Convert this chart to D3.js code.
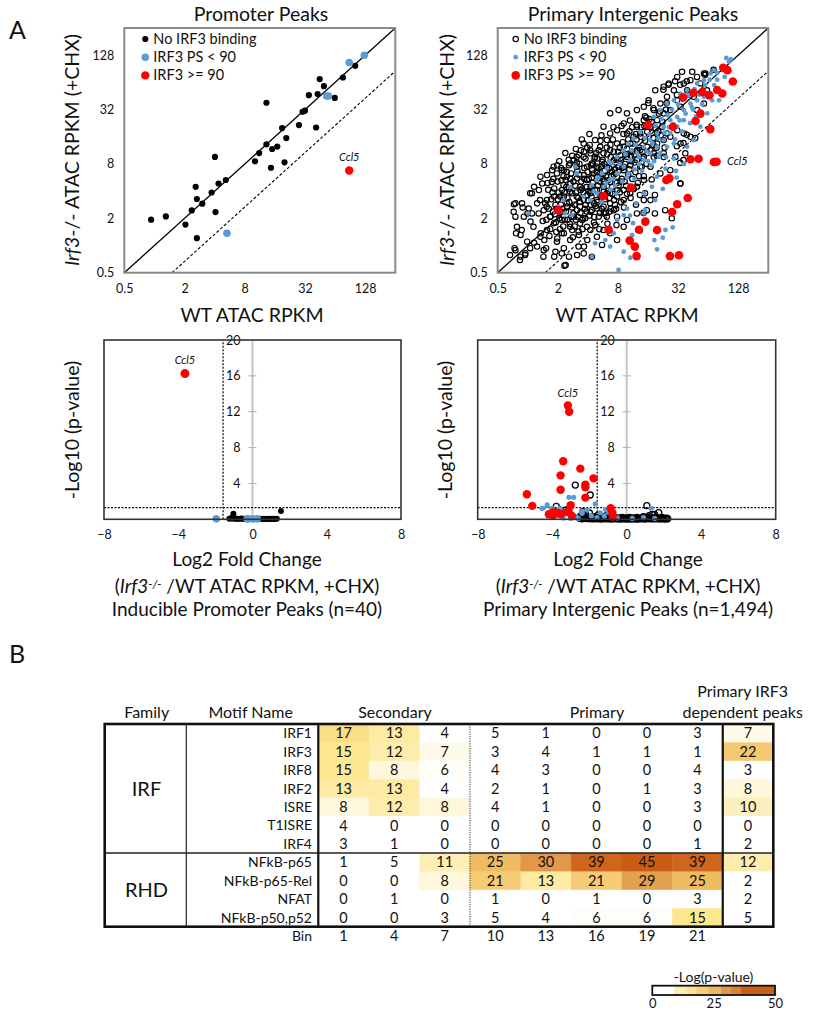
<!DOCTYPE html>
<html><head><meta charset="utf-8">
<script src="https://cdn.jsdelivr.net/npm/d3@7"></script>
<style>
body{margin:0;background:#fff}
text{font-family:Lato,"Open Sans",sans-serif;fill:#111}
</style>
</head><body>
<svg id="c" width="813" height="1014"></svg>
<script>
// ---------------- DATA ----------------
// Scatter plots: values are log2(RPKM): [WT, Irf3-/-]
const tickVals = [0.5, 2, 8, 32, 128];
const promNone = [[-0.11,0.95],[0.38,1.07],[1.03,0.77],[1.24,1.29],[1.37,2.16],[1.41,1.71],[1.41,0.27],[1.59,1.54],[1.9,1.95],[2.03,1.23],[2.01,3.26],[2.13,2.28],[2.37,2.41],[3.34,3.1],[3.48,3.4],[3.72,3.72],[3.72,5.25],[3.87,2.86],[3.91,3.55],[4.08,3.64],[4.24,4.32],[4.32,3.06],[4.38,3.95],[4.8,4.43],[4.92,4.92],[5.0,4.96],[5.13,5.53],[5.37,4.34],[5.42,5.57],[5.49,6.12],[5.63,5.86],[5.99,5.43],[6.26,6.18],[6.67,6.61]];
const promBlue = [[6.47,6.73],[6.97,7.0],[5.72,5.5],[5.78,5.5],[2.41,0.45]];
const promRed = [[6.47,2.76]];

const interNone = [[-0.59,-0.35],[-0.44,-0.1],[-0.26,-0.53],[-0.09,-0.35],[0.08,-0.1],[0.21,0.1],[-0.39,0.45],[-0.2,0.57],[-0.41,1.06],[-0.46,1.52],[-0.17,1.4],[-0.01,1.18],[0.19,0.69],[0.43,0.45],[0.61,-0.1],[0.52,-0.41],[0.88,-0.41],[1.13,-0.29],[1.22,-0.74],[0.97,0.14],[1.13,0.45],[1.41,0.2],[1.69,-0.04],[1.86,-0.29],[2.13,-0.41],[1.69,0.51],[0.08,1.92],[0.21,2.16],[0.41,1.67],[0.63,1.43],[0.74,1.06],[0.36,1.18],[0.86,2.9],[0.97,2.65],[0.8,2.34],[1.13,2.77],[1.3,2.53],[1.19,2.22],[1.41,1.98],[1.08,1.8],[1.3,1.55],[0.97,1.36],[1.52,1.18],[1.74,1.43],[1.91,1.0],[2.08,0.57],[2.3,0.32],[2.47,0.02],[1.74,0.81],[1.41,0.69],[1.13,0.94],[2.74,0.45],[2.97,0.2],
[1.63,2.9],[1.86,3.26],[2.08,3.5],[2.24,3.26],[2.41,3.63],[2.63,3.88],[2.52,3.39],[2.74,3.51],[2.97,3.75],[3.3,4.12],[3.19,3.63],[3.41,3.75],[3.08,3.32],[2.86,3.14],[2.63,2.9],[2.41,2.65],[2.19,2.65],[1.97,2.41],[1.74,2.16],[1.63,1.8],[1.86,1.67],[2.08,1.92],[2.3,2.04],[2.52,2.16],[2.74,2.34],[2.97,2.53],[3.19,2.77],[3.41,2.95],[3.63,3.14],[3.86,3.26],[3.74,3.51],[3.97,3.63],[2.3,1.67],[2.52,1.43],[2.74,1.55],[2.13,1.3],[2.36,1.06],[2.63,1.06],[2.97,1.06],[2.86,1.3],[3.19,1.67],[3.41,1.92],[3.19,2.04],[2.97,1.8],[2.74,1.92],[3.63,2.16],[3.86,2.41],[1.97,0.69],[2.24,0.75],[2.52,0.57],[3.19,0.69],[3.3,0.94],[3.63,1.18],[3.86,1.67],[4.08,1.67],
[1.97,2.9],[2.3,2.9],[2.13,3.02],[2.47,3.08],[2.8,2.71],[3.02,2.9],[3.3,3.26],[3.47,3.44],[3.52,4.0],[3.74,4.12],[3.97,4.18],[3.63,4.37],[3.86,4.61],[3.3,4.86],[3.19,4.49],[2.97,4.24],[2.74,4.12],[2.24,3.88],[1.86,3.75],[1.63,3.26],[1.41,3.02],[2.74,4.86],[3.02,4.98],[2.52,4.37],
[4.08,4.37],[4.3,4.61],[4.52,4.86],[4.19,4.98],[4.41,5.22],[4.63,5.47],[4.52,5.84],[4.69,5.96],[4.86,5.71],[4.97,5.34],[5.19,5.96],[5.41,6.08],[5.3,5.71],[5.63,6.2],[5.86,6.33],[5.74,5.96],[5.52,5.47],[5.08,5.1],[4.74,4.98],[4.3,4.12],[4.52,3.88],[4.74,4.0],[4.97,4.24],[5.19,4.12],[5.08,3.75],[4.3,3.75],[4.52,3.39],[4.19,3.26],[4.08,2.9],[4.41,2.65],[4.74,2.77],[5.08,2.28],[4.91,3.26],[5.24,3.39],[5.41,4.0],[5.86,5.22],[5.63,4.98],[5.96,5.71],[4.97,6.2],[5.13,6.39],[5.47,6.39],[5.91,6.33],[4.63,4.12],[4.47,4.37],[3.86,5.1],[3.63,4.98],[4.02,5.34],[4.24,5.71],
[0.42,2.53],[0.64,2.59],[0.81,2.77],[0.98,2.95],[1.2,2.77],[1.37,2.95],[1.53,3.14],[1.7,3.33],[1.87,3.45],[2.09,3.39],[2.31,3.2],[1.26,2.41],[1.42,2.28],[1.64,2.47],[1.87,2.59],[2.14,2.77],[2.31,2.53],[2.53,2.35],[2.09,2.16],[1.76,2.04],[1.48,1.92],[1.2,1.8],[0.87,1.8],[0.64,1.67],[0.53,1.3],[0.76,1.06],[0.87,0.82],[0.64,0.57],[0.42,0.32],[0.31,-0.04],[0.53,-0.17],[0.92,-0.23],[1.2,-0.1],[1.37,-0.41],[1.26,-0.72],[1.64,-0.35],[1.87,-0.04],[1.98,0.2],[1.7,0.39],[1.48,0.57],[1.2,0.45],[0.98,0.26],[1.53,1.06],[1.81,0.94],[2.09,1.24],[2.31,1.36],[2.53,1.18],[2.76,1.36],[2.87,1.67],[2.64,1.92],[2.42,1.8],[2.2,1.55],[1.92,1.49],[1.64,1.3],[1.31,1.43],[1.09,1.24],[0.92,1.49],[1.14,2.04],[1.37,2.1],[1.98,1.86],[2.98,2.04],[3.09,2.35],[2.92,2.65],[3.2,2.9],[-0.41,1.55],[-0.19,1.55],[-0.47,1.24],[-0.13,1.06],[0.09,0.88],[0.14,1.18],[0.03,1.36],[0.31,1.55],[0.14,1.92],[0.37,2.04],[0.48,2.28],[-0.41,-0.17],[-0.24,-0.41],[-0.08,-0.29],[-0.02,0.14],[-0.24,0.39],[-0.36,0.69],
[4.51,5.73],[4.68,5.91],[4.9,6.04],[5.07,5.91],[5.29,6.04],[4.96,5.54],[4.01,5.24],[4.18,5.05],[4.4,4.93],[4.62,5.24],[3.9,4.75],[3.62,4.44],[5.9,6.28],[6.18,6.46],[5.29,4.07],[5.57,3.95],[5.18,3.77],[4.96,3.65],[4.18,3.7],[4.34,4.2],
[4.19,3.39],[4.52,3.26],[5.07,3.04],[5.18,3.14],[3.79,2.9],[4.12,2.43],[5.07,2.28],[4.23,1.86],[3.73,1.86],[3.9,1.92],[3.96,1.3],[4.23,1.18],[4.57,1.3],[4.79,1.0],
[0.62,0.95],[0.7,1.35],[0.75,0.6],[0.82,1.95],[0.9,1.15],[0.95,0.5],[1.0,1.7],[0.68,2.05],[0.85,2.45],[0.55,0.2],
[1.05,1.0],[1.1,1.5],[1.12,2.4],[1.18,0.7],[1.22,1.95],[1.27,1.25],[1.3,2.7],[1.33,0.95],[1.38,1.6],[1.42,2.45],[1.45,1.05],[1.48,3.3],[1.5,0.3],[1.05,3.1],[1.25,3.4],
[1.55,1.5],[1.58,2.2],[1.6,0.95],[1.65,2.75],[1.68,1.75],[1.72,3.0],[1.75,1.2],[1.78,2.35],[1.82,0.6],[1.85,1.95],[1.88,2.85],[1.9,1.35],[1.95,2.15],[1.98,3.6],[2.0,1.65],[1.6,3.55],[1.8,3.9],
[2.03,2.45],[2.05,1.1],[2.1,2.95],[2.12,1.8],[2.16,2.3],[2.2,0.85],[2.22,3.2],[2.26,1.45],[2.3,2.7],[2.33,2.2],[2.36,3.5],[2.4,1.2],[2.43,2.9],[2.46,1.85],[2.5,2.45],[2.05,4.1],[2.45,4.05],[2.38,0.6],
[2.55,3.0],[2.57,1.7],[2.6,2.55],[2.63,3.6],[2.66,2.0],[2.7,2.85],[2.72,1.25],[2.76,3.25],[2.8,2.15],[2.83,3.9],[2.86,2.6],[2.9,1.5],[2.93,3.05],[2.96,2.3],[3.0,3.45],[2.65,0.8],[2.95,0.75],[2.85,4.35],
[3.03,2.75],[3.06,1.95],[3.1,3.15],[3.13,2.45],[3.16,3.8],[3.2,1.4],[3.24,3.0],[3.27,2.2],[3.3,3.55],[3.34,2.6],[3.38,4.2],[3.42,1.75],[3.45,3.1],[3.48,2.45],[3.5,3.75],[3.12,4.4],[3.4,4.6],
[3.55,3.35],[3.58,2.7],[3.62,3.9],[3.66,2.3],[3.7,3.6],[3.74,2.9],[3.78,4.35],[3.82,3.2],[3.86,2.55],[3.9,3.85],[3.94,4.7],[3.98,3.4],[3.6,1.5],[3.85,1.2],
[4.03,4.0],[4.08,3.5],[4.12,4.55],[4.18,3.95],[4.25,4.3],[4.3,3.3],[4.36,4.85],[4.42,4.05],[4.48,4.55],[4.55,3.6],[4.6,5.0],
[0.5,0.9],[0.58,1.55],[0.66,2.3],[0.72,0.35],[0.78,1.7],[0.84,1.25],[0.88,2.1],[0.93,0.85],[0.99,2.35],[1.03,1.95],[1.07,0.6],[1.11,2.85],[1.15,1.35],[1.19,2.55],[1.23,0.95],[1.28,2.15],[1.32,1.75],[1.36,3.15],[1.4,0.8],[1.44,2.65],[1.47,1.4],[1.52,2.35],[1.56,0.7],[1.6,1.95],[1.63,3.05],[1.67,1.05],[1.71,2.6],[1.74,1.6],[1.77,3.5],[1.81,2.1],[1.84,1.0],[1.88,2.45],[1.92,3.2],[1.96,1.25],[1.99,2.7],[2.02,2.0],[2.06,3.7],[2.09,1.5],[2.13,2.5],[2.17,3.0],[2.21,1.05],[2.24,2.05],[2.28,3.4],[2.32,1.6],[2.35,2.85],[2.39,2.35],[2.42,3.85],[2.46,1.35],[2.49,3.15],[2.53,2.0],[2.56,2.75],[2.6,1.2],[2.64,3.35],[2.67,2.4],[2.71,1.75],[2.75,3.7],[2.78,2.55],[2.82,1.9],[2.86,3.45],[2.9,2.8],[2.94,1.35],[2.98,3.15],[3.02,2.2],[3.06,3.6],[3.1,1.6],[3.14,2.85],[3.18,4.1],[3.22,2.35],[3.26,3.35],[3.3,1.9],[3.34,3.9],[3.38,2.8],[3.43,3.3],[3.47,4.35],[3.52,2.1],[3.56,3.05],[3.6,4.1],[3.65,3.5],[3.7,2.55],[3.75,4.0],[3.8,3.45],[3.88,4.4],[3.95,3.0],[4.05,4.65],[4.15,4.15],[4.28,3.6]];

const interBlue = [[0.02,1.18],[1.58,2.9],[1.24,1.18],[1.47,1.12],[1.86,1.8],[2.13,2.22],[2.3,2.41],[2.47,2.65],[2.63,2.83],[2.8,3.02],[2.97,3.26],[3.19,3.51],[3.36,3.75],[3.52,3.93],[3.74,4.18],[3.97,4.49],[4.19,4.73],[4.41,4.98],[4.63,5.22],[4.86,5.34],[5.08,5.59],[5.3,5.71],[5.63,5.96],[5.86,6.08],[6.08,6.33],[6.19,6.45],[6.69,6.76],[6.36,5.34],[5.86,5.47],[5.63,5.34],[5.41,5.22],[5.19,4.98],[4.97,4.73],[4.74,4.61],[4.52,4.37],[4.3,4.12],[4.08,3.88],[3.86,3.63],[3.63,3.39],[3.41,3.14],[3.19,2.9],[2.97,2.65],[2.74,2.41],[2.52,2.16],[2.3,1.92],[2.08,1.67],[3.86,3.14],[4.08,3.39],[4.3,3.63],[4.52,3.88],[4.74,4.12],[4.97,4.37],[5.19,4.61],[4.36,3.26],[4.63,3.63],[4.86,3.75],[4.93,2.74],[4.49,2.08],[3.6,1.55],[3.9,1.3],[3.5,0.82],[4.82,0.67],[4.49,0.29],[4.21,0.2],[4.3,-0.14],[2.74,-0.04],[2.13,-0.41],[3.02,-0.9],[3.41,-0.45],[3.19,-0.23],[3.47,0.38],[3.86,1.18],[4.24,1.67],[4.58,0.57],[2.74,0.63],[2.97,0.94],[3.3,1.36],[3.19,1.12],[3.86,1.92],[4.13,2.16],[4.3,2.53],[4.58,2.83],[4.86,3.2],[5.3,3.63],[5.52,3.88],[5.74,4.37],[5.97,4.86],[6.13,5.34],[2.24,0.08],[2.58,0.2],[2.86,0.45],[1.63,2.65],[1.41,2.16],[1.19,1.67],[1.02,1.42],[3.3,2.5],[3.55,2.8],[2.9,2.2],[3.7,3.0],[4.0,3.1],[5.5,5.0],[5.9,5.6],[6.3,6.1],
[2.2,2.0],[2.35,2.5],[2.45,1.6],[2.6,2.3],[2.7,3.1],[2.85,2.45],[2.95,1.9],[3.05,3.0],[3.15,2.35],[3.25,3.35],[3.35,2.65],[3.45,3.5],[3.55,2.45],[3.6,3.7],[3.7,3.25],[3.8,2.75],[3.9,3.95],[3.95,3.45],[4.05,4.1],[4.1,2.95],[4.15,3.75],[4.25,4.4],[4.35,3.95],[4.4,3.4],[4.45,4.65],[4.55,4.15],[4.6,3.25],[4.65,4.8],[4.7,4.35],[4.8,5.0],[4.85,4.45],[4.9,3.9],[5.0,5.2],[5.05,4.6],[5.12,4.2],[5.15,5.35],[5.25,4.85],[5.35,5.5],[5.4,4.5],[5.45,5.1],[5.55,5.75],[5.6,4.75],[5.7,5.55],[5.8,5.2],[5.9,5.9],[6.0,5.45],[6.05,6.1],[6.2,5.9],[6.3,6.35],[6.45,6.55],[6.55,6.2],[6.6,6.9],[6.75,6.85],[3.0,2.65],[2.75,2.05],[4.2,3.1],[4.95,2.5],[5.2,3.0],[3.4,1.1],[3.75,0.5]];

const interRed = [[6.5,6.54],[6.64,6.45],[6.82,6.03],[6.3,5.72],[6.47,5.59],[5.81,5.64],[5.51,5.62],[6.04,5.53],[5.17,5.45],[5.74,4.85],[5.58,4.58],[6.07,4.28],[4.0,4.43],[4.83,4.37],[5.41,3.17],[5.68,3.19],[6.19,3.07],[6.28,3.08],[4.61,2.41],[4.71,2.47],[3.43,2.13],[2.52,1.82],[1.02,1.3],[4.97,1.52],[5.32,1.75],[4.8,1.23],[3.91,0.88],[3.7,0.58],[4.3,0.57],[2.69,0.57],[3.39,0.18],[3.56,-0.04],[3.62,-0.39],[4.73,-0.39],[5.03,-0.36]];

// Volcano plots: [log2 fold change, -log10 p]
const volLeftNone = [[-1.25,0.05],[-1.15,0.1],[-1.03,0.63],[-1.0,0.05],[-0.9,0.08],[-0.82,0.03],[-0.7,0.05],[-0.6,0.1],[-0.5,0.04],[-0.42,0.06],[-0.35,0.02],[-0.27,0.05],[-0.2,0.08],[-0.12,0.03],[-0.05,0.06],[0.02,0.04],[0.1,0.07],[0.18,0.03],[0.26,0.05],[0.33,0.02],[0.42,0.05],[0.5,0.03],[0.58,0.06],[0.66,0.04],[0.74,0.02],[0.82,0.05],[0.9,0.03],[0.98,0.05],[1.06,0.04],[1.14,0.05],[1.22,0.03],[1.31,0.05],[1.53,0.93],[-1.1,0.2]];
const volLeftBlue = [[-1.95,0.05],[-0.29,0.03],[-0.26,0.05],[0.03,0.04],[0.26,0.05]];
const volLeftRed = [[-3.64,16.25]];

const volRightNone = [[-2.76,3.82],[-1.96,2.71],[-3.78,1.45],[1.08,1.52],[-3.26,1.04],[-2.35,0.86],[1.72,0.74],[1.5,0.56],[1.36,0.56],[-2.9,0.3],[-2.6,0.22],[-2.45,0.4],[-2.2,0.52],[-2.0,0.7],[-1.8,0.3],[-1.55,0.45],[-1.3,0.25],[-1.1,0.4],[-0.85,0.2],[0.9,0.3],[1.2,0.4],[1.9,0.2],[2.1,0.1],
[-2.5,0.1],[-2.4,0.05],[-2.3,0.15],[-2.2,0.08],[-2.1,0.12],[-2.0,0.05],[-1.9,0.1],[-1.8,0.04],[-1.7,0.12],[-1.6,0.06],[-1.5,0.1],[-1.4,0.03],[-1.3,0.09],[-1.2,0.05],[-1.1,0.12],[-1.0,0.04],[-0.9,0.08],[-0.8,0.03],[-0.7,0.1],[-0.6,0.05],[-0.5,0.08],[-0.4,0.02],[-0.3,0.07],[-0.2,0.04],[-0.1,0.09],[0.0,0.03],[0.1,0.06],[0.2,0.02],[0.3,0.08],[0.4,0.04],[0.5,0.06],[0.6,0.03],[0.7,0.08],[0.8,0.05],[0.9,0.07],[1.0,0.03],[1.1,0.1],[1.2,0.05],[1.3,0.08],[1.4,0.04],[1.5,0.12],[1.6,0.05],[1.7,0.09],[1.8,0.04],[1.9,0.07],[2.0,0.05],[2.1,0.03],[2.2,0.06],
[-2.45,0.2],[-2.25,0.25],[-2.05,0.22],[-1.85,0.18],[-1.65,0.24],[-1.45,0.2],[-1.25,0.16],[-1.05,0.22],[-0.85,0.15],[-0.65,0.2],[-0.45,0.17],[-0.25,0.22],[-0.05,0.15],[0.15,0.2],[0.35,0.16],[0.55,0.2],[0.75,0.15],[0.95,0.18],[1.15,0.22],[1.35,0.16],[1.55,0.2],[1.75,0.16],[1.95,0.14],[2.15,0.12]];
const volRightBlue = [[-3.1,2.45],[-2.85,2.45],[-4.27,1.6],[-4.56,1.22],[-4.02,1.22],[-1.69,1.71],[1.31,1.23],[-1.13,1.1],[-2.42,0.86],[-4.5,1.23],[-3.57,1.22],[-4.02,0.6],[-1.42,0.73],[-2.13,1.04],[-2.4,0.67],[-3.03,0.11],[-0.97,0.78],[-2.7,0.3],[-1.9,0.4],[-3.4,0.15],[-2.6,0.1],[-1.6,0.2],[-1.2,0.35],[-0.5,0.15],[0.3,0.1],[0.9,0.2],[1.5,0.1]];
const volRightRed = [[-3.16,12.7],[-3.09,12.0],[-3.41,6.47],[-2.49,5.65],[-3.55,4.9],[-1.78,4.57],[-2.22,3.87],[-2.22,3.57],[-3.55,3.3],[-5.36,2.79],[-2.22,2.42],[-5.07,1.5],[-3.01,1.56],[-0.86,1.23],[-0.77,0.74],[-3.7,0.67],[-3.53,0.56],[-3.96,0.41],[-0.75,0.3],[-3.93,0.78],[-3.66,0.67],[-3.12,0.93],[-3.2,0.8],[-2.94,0.37],[-4.18,0.56]];

// Heatmap
const families = ["IRF","RHD"];
const motifs = ["IRF1","IRF3","IRF8","IRF2","ISRE","T1ISRE","IRF4","NFkB-p65","NFkB-p65-Rel","NFAT","NFkB-p50,p52"];
const bins = ["1","4","7","10","13","16","19","21"];
const heatValues = [
 [17,13,4,5,1,0,0,3,7],
 [15,12,7,3,4,1,1,1,22],
 [15,8,6,4,3,0,0,4,3],
 [13,13,4,2,1,0,1,3,8],
 [8,12,8,4,1,0,0,3,10],
 [4,0,0,0,0,0,0,0,0],
 [3,1,0,0,0,0,0,1,2],
 [1,5,11,25,30,39,45,39,12],
 [0,0,8,21,13,21,29,25,2],
 [0,1,0,1,0,1,0,3,2],
 [0,0,3,5,4,6,6,15,5]];
const legendTicks = [0,25,50];

// ---------------- DRAWING ----------------
const svg = d3.select("#c");
const BLUE = "#5b9bd5", RED = "#ff0000";

function richText(sel, parts){ // parts: [text, italic?, super?, down?]
  parts.forEach(p=>{
    const t = sel.append("tspan").text(p[0]);
    if(p[1]) t.attr("font-style","italic");
    if(p[2]) t.attr("font-size","0.62em").attr("dy","-0.45em");
    if(p[3]) t.attr("dy","0.28em");
  });
}

function scatter(o){
  const g = svg.append("g");
  const x = d3.scaleLog().base(2).domain([0.5,256]).range([o.L, o.L+o.W]);
  const y = d3.scaleLog().base(2).domain([0.5,256]).range([o.T+o.H, o.T]);
  const P = v => Math.pow(2, v);
  g.append("g").attr("transform",`translate(0,${o.T+o.H})`)
    .call(d3.axisBottom(x).tickValues(tickVals).tickFormat(d=>String(d)).tickSize(0).tickPadding(11))
    .call(a=>{a.select(".domain").remove(); a.selectAll("text").attr("font-size",12.5).attr("font-family","Lato").attr("fill","#222");});
  g.append("g").attr("transform",`translate(${o.L},0)`)
    .call(d3.axisLeft(y).tickValues(tickVals).tickFormat(d=>String(d)).tickSize(0).tickPadding(10))
    .call(a=>{a.select(".domain").remove(); a.selectAll("text").attr("font-size",12.5).attr("font-family","Lato").attr("fill","#222");});
  g.append("line").attr("x1",x(0.5)).attr("y1",y(0.5)).attr("x2",x(256)).attr("y2",y(256))
    .attr("stroke","#000").attr("stroke-width",1.3);
  g.append("line").attr("x1",x(1.5)).attr("y1",y(0.5)).attr("x2",x(256)).attr("y2",y(256/3))
    .attr("stroke","#000").attr("stroke-width",1.1).attr("stroke-dasharray","3,2");
  if(o.open){
    g.selectAll(null).data(o.none).join("circle").attr("cx",d=>x(P(d[0]))).attr("cy",d=>y(P(d[1])))
      .attr("r",2.7).attr("fill","none").attr("stroke","#000").attr("stroke-width",1.15);
  } else {
    g.selectAll(null).data(o.none).join("circle").attr("cx",d=>x(P(d[0]))).attr("cy",d=>y(P(d[1])))
      .attr("r",3.1).attr("fill","#000");
  }
  g.selectAll(null).data(o.blue).join("circle").attr("cx",d=>x(P(d[0]))).attr("cy",d=>y(P(d[1])))
    .attr("r",o.blueR).attr("fill",BLUE);
  g.selectAll(null).data(o.red).join("circle").attr("cx",d=>x(P(d[0]))).attr("cy",d=>y(P(d[1])))
    .attr("r",o.redR).attr("fill",RED);
  g.append("rect").attr("x",o.L).attr("y",o.T).attr("width",o.W).attr("height",o.H)
    .attr("fill","none").attr("stroke","#8a8a8a").attr("stroke-width",2);
  const lg = g.append("g");
  o.leg.forEach((r,i)=>{
    const yy = o.T + 11 + i*18.2;
    const c = lg.append("circle").attr("cx",o.L+o.legDx).attr("cy",yy);
    if(i===0){ if(o.open) c.attr("r",2.7).attr("fill","none").attr("stroke","#000").attr("stroke-width",1.15); else c.attr("r",3.1).attr("fill","#000"); }
    if(i===1) c.attr("r",o.blueR).attr("fill",BLUE);
    if(i===2) c.attr("r",o.redR).attr("fill",RED);
    lg.append("text").attr("x",o.L+o.legDx+8).attr("y",yy).attr("dy","0.35em").attr("font-size",14.5).text(r);
  });
  g.append("text").attr("x",o.titleX).attr("y",21).attr("text-anchor","middle").attr("font-size",19.5).text(o.title);
  g.append("text").attr("x",o.xlabX).attr("y",322).attr("text-anchor","middle").attr("font-size",19.5).text("WT ATAC RPKM");
  const yl = g.append("text").attr("transform",`translate(${o.ylabX},150) rotate(-90)`).attr("text-anchor","middle").attr("dy","0.35em").attr("font-size",19.5);
  richText(yl, [["Irf3",true],["-/- ATAC RPKM (+CHX)"]]);
  g.append("text").attr("x",x(P(o.ccl[0]))).attr("y",y(P(o.ccl[1]))).attr("font-size",11).attr("font-style","italic").attr("text-anchor",o.cclAnchor).text("Ccl5");
}

scatter({L:124.3,T:28,W:271,H:244.7,none:promNone,blue:promBlue,red:promRed,open:false,blueR:3.8,redR:4.2,
  leg:["No IRF3 binding","IRF3 PS < 90","IRF3 >= 90"],legDx:21,title:"Promoter Peaks",titleX:261,xlabX:252,ylabX:72,
  ccl:[6.47,3.1],cclAnchor:"middle"});
scatter({L:497.7,T:28,W:270.6,H:244.7,none:interNone,blue:interBlue,red:interRed,open:true,blueR:2.4,redR:4.3,
  leg:["No IRF3 binding","IRF3 PS < 90","IRF3 PS >= 90"],legDx:18,title:"Primary Intergenic Peaks",titleX:633,xlabX:627,ylabX:447,
  ccl:[6.63,2.96],cclAnchor:"start"});

function volcano(o){
  const g = svg.append("g");
  const x = d3.scaleLinear().domain([-8,8]).range([o.L,o.L+o.W]);
  const y = d3.scaleLinear().domain([0,20]).range([o.T+o.H,o.T]);
  g.append("line").attr("x1",x(0)).attr("x2",x(0)).attr("y1",y(0)).attr("y2",y(20)).attr("stroke","#c4c4c4").attr("stroke-width",2);
  [4,8,12,16].forEach(t=>{
    g.append("line").attr("x1",x(0)-4).attr("x2",x(0)+4).attr("y1",y(t)).attr("y2",y(t)).attr("stroke","#b0b0b0").attr("stroke-width",1);
  });
  g.append("g").attr("transform",`translate(${x(0)},0)`)
    .call(d3.axisLeft(y).tickValues([4,8,12,16,20]).tickSize(0).tickPadding(12))
    .call(a=>{a.select(".domain").remove(); a.selectAll("text").attr("font-size",12.5).attr("font-family","Lato").attr("fill","#222");});
  g.append("g").attr("transform",`translate(0,${o.T+o.H})`)
    .call(d3.axisBottom(x).tickValues([-8,-4,0,4,8]).tickSize(0).tickPadding(11))
    .call(a=>{a.select(".domain").remove(); a.selectAll("text").attr("font-size",12.5).attr("font-family","Lato").attr("fill","#222");});
  g.append("line").attr("x1",x(-8)).attr("x2",x(8)).attr("y1",y(1.3)).attr("y2",y(1.3)).attr("stroke","#000").attr("stroke-width",1.2).attr("stroke-dasharray","2,1.5");
  g.append("line").attr("x1",x(-Math.log2(3))).attr("x2",x(-Math.log2(3))).attr("y1",y(0)).attr("y2",y(20)).attr("stroke","#000").attr("stroke-width",1.2).attr("stroke-dasharray","2,1.5");
  if(o.open){
    g.selectAll(null).data(o.none).join("circle").attr("cx",d=>x(d[0])).attr("cy",d=>y(d[1])).attr("r",3).attr("fill","none").attr("stroke","#000").attr("stroke-width",1.3);
  } else {
    g.selectAll(null).data(o.none).join("circle").attr("cx",d=>x(d[0])).attr("cy",d=>y(d[1])).attr("r",3).attr("fill","#000");
  }
  g.selectAll(null).data(o.blue).join("circle").attr("cx",d=>x(d[0])).attr("cy",d=>y(d[1])).attr("r",o.blueR).attr("fill",BLUE);
  g.selectAll(null).data(o.red).join("circle").attr("cx",d=>x(d[0])).attr("cy",d=>y(d[1])).attr("r",o.redR).attr("fill",RED);
  g.append("rect").attr("x",o.L).attr("y",o.T).attr("width",o.W).attr("height",o.H).attr("fill","none").attr("stroke","#333").attr("stroke-width",1.6);
  g.append("text").attr("x",x(o.ccl[0])).attr("y",y(o.ccl[1])).attr("text-anchor","middle").attr("font-size",11).attr("font-style","italic").text("Ccl5");
  g.append("text").attr("transform",`translate(${o.ylabX},430) rotate(-90)`).attr("text-anchor","middle").attr("dy","0.35em").attr("font-size",19.5).text("-Log10 (p-value)");
  g.append("text").attr("x",o.xlabX).attr("y",566).attr("text-anchor","middle").attr("font-size",19).text("Log2 Fold Change");
  const t2 = g.append("text").attr("x",o.xlabX).attr("y",593).attr("text-anchor","middle").attr("font-size",19);
  richText(t2, [["("],["Irf3",true],["-/-",true,true],[" /WT ATAC RPKM, +CHX)",false,false,true]]);
  g.append("text").attr("x",o.xlabX).attr("y",616).attr("text-anchor","middle").attr("font-size",19).text(o.sub);
}
volcano({L:104,T:340,W:297,H:179.3,none:volLeftNone,blue:volLeftBlue,red:volLeftRed,open:false,blueR:3.8,redR:4.5,
  ccl:[-3.64,17.3],ylabX:72,xlabX:247,sub:"Inducible Promoter Peaks (n=40)"});
volcano({L:477.7,T:340,W:298,H:179.3,none:volRightNone,blue:volRightBlue,red:volRightRed,open:true,blueR:2.6,redR:4.2,
  ccl:[-3.16,13.6],ylabX:445,xlabX:628,sub:"Primary Intergenic Peaks (n=1,494)"});

svg.append("text").attr("x",9).attr("y",39).attr("font-size",25).text("A");
svg.append("text").attr("x",9).attr("y",663).attr("font-size",25).text("B");

// ---------------- HEATMAP ----------------
const color = d3.scaleLinear().domain([0,5.5,10,15,20,25,30,39,50])
  .range(['#ffffff','#ffffff','#fdf0c0','#fde890','#f6d07a','#efbb60','#e0994a','#d0661e','#c4520e']).clamp(true);
const TL=104.7, TR=773.3, TT=724, TB=926.7;
const colX = d3.scaleBand().domain(d3.range(9)).range([318.3, TR]);
const rowY = d3.scaleBand().domain(motifs).range([TT, TB]);
const hg = svg.append("g");
motifs.forEach((m,i)=>{
  heatValues[i].forEach((v,j)=>{
    hg.append("rect").attr("x",colX(j)).attr("y",rowY(m)).attr("width",colX.bandwidth()+0.5).attr("height",rowY.bandwidth()+0.5).attr("fill",color(v));
    hg.append("text").attr("x",colX(j)+colX.bandwidth()/2).attr("y",rowY(m)+rowY.bandwidth()/2).attr("dy","0.36em")
      .attr("text-anchor","middle").attr("font-size",14.5).text(v);
  });
  hg.append("text").attr("x",312).attr("y",rowY(m)+rowY.bandwidth()/2).attr("dy","0.36em").attr("text-anchor","end").attr("font-size",14).text(m);
});
hg.append("text").attr("x",312).attr("y",936).attr("dy","0.36em").attr("text-anchor","end").attr("font-size",14).text("Bin");
bins.forEach((b,j)=>hg.append("text").attr("x",colX(j)+colX.bandwidth()/2).attr("y",936).attr("dy","0.36em").attr("text-anchor","middle").attr("font-size",14.5).text(b));
const sep = rowY(motifs[7]);
hg.append("line").attr("x1",TL).attr("x2",TR).attr("y1",sep).attr("y2",sep).attr("stroke","#222").attr("stroke-width",1.6);
hg.append("line").attr("x1",186.3).attr("x2",186.3).attr("y1",TT).attr("y2",TB).attr("stroke","#222").attr("stroke-width",1.2);
hg.append("line").attr("x1",colX(0)).attr("x2",colX(0)).attr("y1",TT).attr("y2",TB).attr("stroke","#111").attr("stroke-width",2.2);
hg.append("line").attr("x1",colX(8)).attr("x2",colX(8)).attr("y1",TT).attr("y2",TB).attr("stroke","#111").attr("stroke-width",2.2);
hg.append("line").attr("x1",colX(3)).attr("x2",colX(3)).attr("y1",TT).attr("y2",TB).attr("stroke","#333").attr("stroke-width",1).attr("stroke-dasharray","1.2,1.2");
hg.append("rect").attr("x",TL).attr("y",TT).attr("width",TR-TL).attr("height",TB-TT).attr("fill","none").attr("stroke","#111").attr("stroke-width",2.6);
hg.append("text").attr("x",146.5).attr("y",(TT+sep)/2).attr("dy","0.36em").attr("text-anchor","middle").attr("font-size",20).text(families[0]);
hg.append("text").attr("x",146.5).attr("y",(sep+TB)/2).attr("dy","0.36em").attr("text-anchor","middle").attr("font-size",20).text(families[1]);
const hdr = [["Family",146.7,712],["Motif Name",250.7,712],["Secondary",395,712],["Primary",597,712],["Primary IRF3",742.7,691.5],["dependent peaks",742.7,712]];
hdr.forEach(h=>hg.append("text").attr("x",h[1]).attr("y",h[2]).attr("dy","0.36em").attr("text-anchor","middle").attr("font-size",16).text(h[0]));
const lx = d3.scaleLinear().domain([0,50]).range([652.3,775]);
const steps = [0,9,14,18,23,28,32,36,50];
for(let k=0;k<steps.length-1;k++){
  hg.append("rect").attr("x",lx(steps[k])).attr("y",985.7).attr("width",lx(steps[k+1])-lx(steps[k])+0.3).attr("height",9.3)
    .attr("fill",color((steps[k]+steps[k+1])/2));
}
hg.append("rect").attr("x",lx(0)).attr("y",985.7).attr("width",lx(50)-lx(0)).attr("height",9.3).attr("fill","none").attr("stroke","#111").attr("stroke-width",1.8);
hg.append("text").attr("x",713.5).attr("y",976.5).attr("dy","0.36em").attr("text-anchor","middle").attr("font-size",14).text("-Log(p-value)");
hg.append("g").attr("transform","translate(0,995)")
  .call(d3.axisBottom(lx).tickValues(legendTicks).tickSize(0).tickPadding(4))
  .call(a=>{a.select(".domain").remove(); a.selectAll("text").attr("font-size",13).attr("font-family","Lato").attr("fill","#111");});
</script>
</body></html>
